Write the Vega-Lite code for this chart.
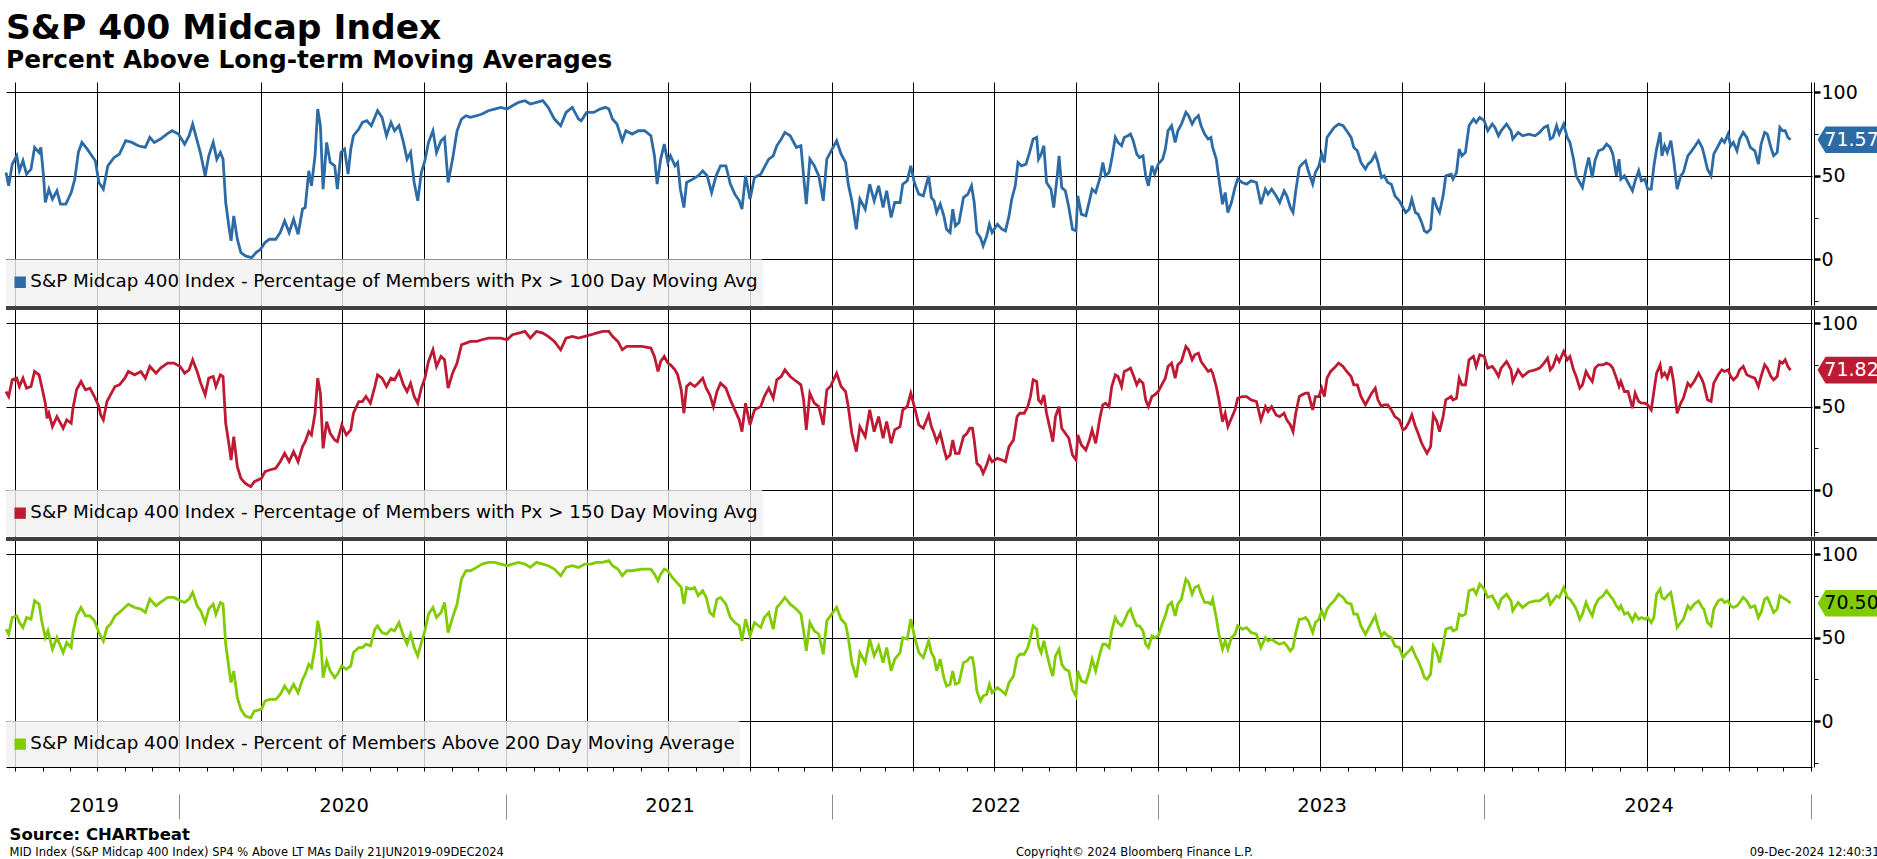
{
"$schema": "https://vega.github.io/schema/vega-lite/v6.json",
"padding": {"left": 0, "right": 0, "top": 10, "bottom": 0},
"background": "white",
"config": {"view": {"stroke": null}, "font": "DejaVu Sans"},
"title": {"text": "S&P 400 Midcap Index", "subtitle": "Percent Above Long-term Moving Averages", "anchor": "start", "frame": "group", "offset": 8, "font": "DejaVu Sans", "fontSize": 34.5, "fontWeight": "bold", "color": "black", "subtitleFont": "DejaVu Sans", "subtitleFontSize": 24.8, "subtitleFontWeight": "bold", "subtitleColor": "black", "subtitlePadding": 2},
"spacing": 0,
"resolve": {"scale": {"x": "independent", "y": "independent", "color": "independent"}, "legend": {"color": "independent"}, "axis": {"x": "independent", "y": "independent"}},
"datasets": {
"m100": [
{"date":"2019-06-21","pct":52},{"date":"2019-06-24","pct":44},{"date":"2019-06-28","pct":57},{"date":"2019-07-03","pct":62},{"date":"2019-07-06","pct":53},{"date":"2019-07-10","pct":59},{"date":"2019-07-14","pct":51},{"date":"2019-07-19","pct":54},{"date":"2019-07-23","pct":67},{"date":"2019-07-28","pct":64},{"date":"2019-07-30","pct":67},{"date":"2019-08-02","pct":50},{"date":"2019-08-04","pct":34},{"date":"2019-08-08","pct":42},{"date":"2019-08-12","pct":36},{"date":"2019-08-17","pct":41},{"date":"2019-08-21","pct":33},{"date":"2019-08-27","pct":33},{"date":"2019-09-02","pct":40},{"date":"2019-09-06","pct":48},{"date":"2019-09-10","pct":64},{"date":"2019-09-14","pct":70},{"date":"2019-09-20","pct":66},{"date":"2019-09-25","pct":62},{"date":"2019-09-29","pct":59},{"date":"2019-10-03","pct":46},{"date":"2019-10-08","pct":42},{"date":"2019-10-13","pct":56},{"date":"2019-10-20","pct":61},{"date":"2019-10-26","pct":63},{"date":"2019-11-02","pct":71},{"date":"2019-11-09","pct":70},{"date":"2019-11-16","pct":68},{"date":"2019-11-24","pct":67},{"date":"2019-11-29","pct":73},{"date":"2019-12-04","pct":70},{"date":"2019-12-11","pct":72},{"date":"2019-12-18","pct":75},{"date":"2019-12-24","pct":77},{"date":"2019-12-31","pct":75},
{"date":"2020-01-07","pct":69},{"date":"2020-01-12","pct":74},{"date":"2020-01-16","pct":81},{"date":"2020-01-20","pct":73},{"date":"2020-01-25","pct":63},{"date":"2020-01-30","pct":50},{"date":"2020-02-03","pct":62},{"date":"2020-02-08","pct":70},{"date":"2020-02-12","pct":60},{"date":"2020-02-16","pct":64},{"date":"2020-02-19","pct":60},{"date":"2020-02-22","pct":34},{"date":"2020-02-26","pct":18},{"date":"2020-02-28","pct":11},{"date":"2020-03-02","pct":26},{"date":"2020-03-06","pct":12},{"date":"2020-03-10","pct":4},{"date":"2020-03-15","pct":2},{"date":"2020-03-22","pct":1},{"date":"2020-03-27","pct":4},{"date":"2020-04-01","pct":6},{"date":"2020-04-06","pct":10},{"date":"2020-04-11","pct":12},{"date":"2020-04-18","pct":12},{"date":"2020-04-23","pct":16},{"date":"2020-04-28","pct":23},{"date":"2020-05-03","pct":16},{"date":"2020-05-08","pct":24},{"date":"2020-05-13","pct":15},{"date":"2020-05-18","pct":30},{"date":"2020-05-21","pct":31},{"date":"2020-05-25","pct":53},{"date":"2020-05-28","pct":44},{"date":"2020-06-01","pct":62},{"date":"2020-06-04","pct":90},{"date":"2020-06-07","pct":80},{"date":"2020-06-10","pct":42},{"date":"2020-06-14","pct":70},{"date":"2020-06-18","pct":58},{"date":"2020-06-23","pct":56},{"date":"2020-06-26","pct":42},{"date":"2020-06-30","pct":64},{"date":"2020-07-04","pct":66},{"date":"2020-07-08","pct":51},{"date":"2020-07-11","pct":66},{"date":"2020-07-14","pct":74},{"date":"2020-07-20","pct":78},{"date":"2020-07-24","pct":82},{"date":"2020-07-29","pct":83},{"date":"2020-08-03","pct":80},{"date":"2020-08-10","pct":89},{"date":"2020-08-15","pct":85},{"date":"2020-08-20","pct":74},{"date":"2020-08-25","pct":82},{"date":"2020-08-29","pct":77},{"date":"2020-09-03","pct":80},{"date":"2020-09-08","pct":70},{"date":"2020-09-12","pct":60},{"date":"2020-09-16","pct":64},{"date":"2020-09-20","pct":46},{"date":"2020-09-24","pct":35},{"date":"2020-09-28","pct":52},{"date":"2020-10-02","pct":59},{"date":"2020-10-06","pct":70},{"date":"2020-10-11","pct":77},{"date":"2020-10-15","pct":64},{"date":"2020-10-20","pct":71},{"date":"2020-10-24","pct":73},{"date":"2020-10-28","pct":46},{"date":"2020-11-02","pct":60},{"date":"2020-11-07","pct":77},{"date":"2020-11-12","pct":84},{"date":"2020-11-17","pct":86},{"date":"2020-11-22","pct":85},{"date":"2020-11-29","pct":86},{"date":"2020-12-05","pct":87},{"date":"2020-12-12","pct":89},{"date":"2020-12-19","pct":90},{"date":"2020-12-26","pct":91},
{"date":"2021-01-02","pct":90},{"date":"2021-01-08","pct":92},{"date":"2021-01-15","pct":94},{"date":"2021-01-22","pct":95},{"date":"2021-01-28","pct":93},{"date":"2021-02-04","pct":94},{"date":"2021-02-11","pct":95},{"date":"2021-02-17","pct":91},{"date":"2021-02-24","pct":84},{"date":"2021-03-03","pct":80},{"date":"2021-03-09","pct":88},{"date":"2021-03-16","pct":91},{"date":"2021-03-23","pct":84},{"date":"2021-03-26","pct":83},{"date":"2021-04-01","pct":88},{"date":"2021-04-09","pct":88},{"date":"2021-04-16","pct":90},{"date":"2021-04-22","pct":91},{"date":"2021-04-26","pct":90},{"date":"2021-04-30","pct":84},{"date":"2021-05-05","pct":81},{"date":"2021-05-11","pct":71},{"date":"2021-05-15","pct":77},{"date":"2021-05-22","pct":75},{"date":"2021-05-29","pct":77},{"date":"2021-06-05","pct":77},{"date":"2021-06-12","pct":74},{"date":"2021-06-16","pct":62},{"date":"2021-06-19","pct":45},{"date":"2021-06-23","pct":60},{"date":"2021-06-27","pct":69},{"date":"2021-07-01","pct":58},{"date":"2021-07-04","pct":62},{"date":"2021-07-09","pct":56},{"date":"2021-07-12","pct":58},{"date":"2021-07-15","pct":42},{"date":"2021-07-19","pct":31},{"date":"2021-07-22","pct":46},{"date":"2021-07-29","pct":48},{"date":"2021-08-04","pct":50},{"date":"2021-08-09","pct":53},{"date":"2021-08-14","pct":50},{"date":"2021-08-19","pct":40},{"date":"2021-08-24","pct":50},{"date":"2021-08-29","pct":56},{"date":"2021-09-04","pct":56},{"date":"2021-09-09","pct":45},{"date":"2021-09-14","pct":39},{"date":"2021-09-19","pct":35},{"date":"2021-09-22","pct":30},{"date":"2021-09-26","pct":50},{"date":"2021-10-01","pct":36},{"date":"2021-10-06","pct":49},{"date":"2021-10-13","pct":51},{"date":"2021-10-17","pct":55},{"date":"2021-10-22","pct":60},{"date":"2021-10-27","pct":62},{"date":"2021-10-31","pct":68},{"date":"2021-11-05","pct":72},{"date":"2021-11-09","pct":76},{"date":"2021-11-15","pct":74},{"date":"2021-11-22","pct":67},{"date":"2021-11-27","pct":68},{"date":"2021-11-30","pct":50},{"date":"2021-12-03","pct":33},{"date":"2021-12-07","pct":60},{"date":"2021-12-12","pct":56},{"date":"2021-12-17","pct":50},{"date":"2021-12-22","pct":35},{"date":"2021-12-26","pct":60},{"date":"2021-12-30","pct":64},
{"date":"2022-01-06","pct":71},{"date":"2022-01-11","pct":63},{"date":"2022-01-16","pct":58},{"date":"2022-01-19","pct":45},{"date":"2022-01-23","pct":35},{"date":"2022-01-28","pct":18},{"date":"2022-02-01","pct":36},{"date":"2022-02-07","pct":30},{"date":"2022-02-12","pct":45},{"date":"2022-02-17","pct":35},{"date":"2022-02-22","pct":44},{"date":"2022-02-27","pct":31},{"date":"2022-03-03","pct":41},{"date":"2022-03-08","pct":25},{"date":"2022-03-12","pct":34},{"date":"2022-03-18","pct":34},{"date":"2022-03-21","pct":45},{"date":"2022-03-26","pct":47},{"date":"2022-03-30","pct":56},{"date":"2022-04-03","pct":46},{"date":"2022-04-08","pct":39},{"date":"2022-04-13","pct":38},{"date":"2022-04-19","pct":50},{"date":"2022-04-22","pct":37},{"date":"2022-04-25","pct":35},{"date":"2022-04-28","pct":28},{"date":"2022-05-02","pct":33},{"date":"2022-05-06","pct":26},{"date":"2022-05-09","pct":18},{"date":"2022-05-13","pct":16},{"date":"2022-05-16","pct":30},{"date":"2022-05-19","pct":20},{"date":"2022-05-23","pct":22},{"date":"2022-05-28","pct":37},{"date":"2022-06-02","pct":39},{"date":"2022-06-06","pct":44},{"date":"2022-06-09","pct":34},{"date":"2022-06-12","pct":16},{"date":"2022-06-16","pct":13},{"date":"2022-06-19","pct":8},{"date":"2022-06-23","pct":14},{"date":"2022-06-26","pct":21},{"date":"2022-06-29","pct":16},{"date":"2022-07-05","pct":21},{"date":"2022-07-10","pct":18},{"date":"2022-07-14","pct":17},{"date":"2022-07-18","pct":26},{"date":"2022-07-21","pct":36},{"date":"2022-07-25","pct":44},{"date":"2022-07-28","pct":58},{"date":"2022-08-01","pct":56},{"date":"2022-08-06","pct":57},{"date":"2022-08-10","pct":64},{"date":"2022-08-14","pct":72},{"date":"2022-08-18","pct":73},{"date":"2022-08-20","pct":60},{"date":"2022-08-23","pct":63},{"date":"2022-08-26","pct":68},{"date":"2022-08-29","pct":46},{"date":"2022-09-03","pct":42},{"date":"2022-09-06","pct":31},{"date":"2022-09-10","pct":50},{"date":"2022-09-12","pct":62},{"date":"2022-09-15","pct":43},{"date":"2022-09-19","pct":41},{"date":"2022-09-23","pct":31},{"date":"2022-09-27","pct":18},{"date":"2022-10-01","pct":17},{"date":"2022-10-03","pct":38},{"date":"2022-10-07","pct":27},{"date":"2022-10-12","pct":26},{"date":"2022-10-16","pct":35},{"date":"2022-10-19","pct":42},{"date":"2022-10-23","pct":40},{"date":"2022-10-28","pct":49},{"date":"2022-10-31","pct":58},{"date":"2022-11-03","pct":50},{"date":"2022-11-07","pct":52},{"date":"2022-11-10","pct":60},{"date":"2022-11-14","pct":73},{"date":"2022-11-17","pct":70},{"date":"2022-11-21","pct":68},{"date":"2022-11-24","pct":73},{"date":"2022-11-28","pct":74},{"date":"2022-12-01","pct":75},{"date":"2022-12-04","pct":71},{"date":"2022-12-08","pct":63},{"date":"2022-12-11","pct":61},{"date":"2022-12-15","pct":62},{"date":"2022-12-18","pct":50},{"date":"2022-12-21","pct":44},{"date":"2022-12-25","pct":56},{"date":"2022-12-28","pct":51},
{"date":"2023-01-01","pct":57},{"date":"2023-01-06","pct":60},{"date":"2023-01-09","pct":66},{"date":"2023-01-12","pct":77},{"date":"2023-01-16","pct":80},{"date":"2023-01-20","pct":70},{"date":"2023-01-23","pct":77},{"date":"2023-01-27","pct":81},{"date":"2023-02-01","pct":88},{"date":"2023-02-04","pct":86},{"date":"2023-02-08","pct":81},{"date":"2023-02-11","pct":84},{"date":"2023-02-15","pct":86},{"date":"2023-02-18","pct":80},{"date":"2023-02-22","pct":75},{"date":"2023-02-26","pct":72},{"date":"2023-03-01","pct":73},{"date":"2023-03-03","pct":67},{"date":"2023-03-07","pct":60},{"date":"2023-03-10","pct":48},{"date":"2023-03-14","pct":33},{"date":"2023-03-17","pct":40},{"date":"2023-03-20","pct":28},{"date":"2023-03-24","pct":34},{"date":"2023-03-28","pct":43},{"date":"2023-03-31","pct":48},{"date":"2023-04-05","pct":46},{"date":"2023-04-10","pct":45},{"date":"2023-04-15","pct":47},{"date":"2023-04-21","pct":46},{"date":"2023-04-26","pct":33},{"date":"2023-05-01","pct":42},{"date":"2023-05-04","pct":39},{"date":"2023-05-08","pct":42},{"date":"2023-05-13","pct":38},{"date":"2023-05-17","pct":34},{"date":"2023-05-22","pct":41},{"date":"2023-05-25","pct":38},{"date":"2023-05-29","pct":31},{"date":"2023-06-01","pct":28},{"date":"2023-06-04","pct":41},{"date":"2023-06-08","pct":55},{"date":"2023-06-11","pct":57},{"date":"2023-06-15","pct":59},{"date":"2023-06-18","pct":53},{"date":"2023-06-23","pct":45},{"date":"2023-06-26","pct":52},{"date":"2023-06-30","pct":56},{"date":"2023-07-03","pct":63},{"date":"2023-07-06","pct":58},{"date":"2023-07-09","pct":73},{"date":"2023-07-13","pct":76},{"date":"2023-07-17","pct":79},{"date":"2023-07-22","pct":81},{"date":"2023-07-27","pct":80},{"date":"2023-07-31","pct":77},{"date":"2023-08-05","pct":73},{"date":"2023-08-08","pct":67},{"date":"2023-08-12","pct":65},{"date":"2023-08-16","pct":58},{"date":"2023-08-21","pct":54},{"date":"2023-08-24","pct":57},{"date":"2023-08-28","pct":59},{"date":"2023-09-01","pct":63},{"date":"2023-09-04","pct":58},{"date":"2023-09-08","pct":49},{"date":"2023-09-11","pct":50},{"date":"2023-09-15","pct":46},{"date":"2023-09-19","pct":45},{"date":"2023-09-23","pct":38},{"date":"2023-09-28","pct":35},{"date":"2023-10-02","pct":31},{"date":"2023-10-05","pct":28},{"date":"2023-10-09","pct":30},{"date":"2023-10-12","pct":36},{"date":"2023-10-16","pct":28},{"date":"2023-10-19","pct":27},{"date":"2023-10-23","pct":22},{"date":"2023-10-26","pct":17},{"date":"2023-10-29","pct":16},{"date":"2023-11-02","pct":18},{"date":"2023-11-05","pct":37},{"date":"2023-11-09","pct":31},{"date":"2023-11-12","pct":28},{"date":"2023-11-16","pct":38},{"date":"2023-11-19","pct":50},{"date":"2023-11-25","pct":51},{"date":"2023-11-27","pct":48},{"date":"2023-12-01","pct":52},{"date":"2023-12-04","pct":66},{"date":"2023-12-07","pct":62},{"date":"2023-12-11","pct":64},{"date":"2023-12-15","pct":80},{"date":"2023-12-20","pct":84},{"date":"2023-12-23","pct":82},{"date":"2023-12-27","pct":85},
{"date":"2024-01-01","pct":83},{"date":"2024-01-05","pct":77},{"date":"2024-01-10","pct":81},{"date":"2024-01-13","pct":79},{"date":"2024-01-17","pct":74},{"date":"2024-01-20","pct":77},{"date":"2024-01-26","pct":81},{"date":"2024-01-31","pct":77},{"date":"2024-02-02","pct":72},{"date":"2024-02-08","pct":76},{"date":"2024-02-13","pct":74},{"date":"2024-02-20","pct":75},{"date":"2024-02-27","pct":74},{"date":"2024-03-03","pct":76},{"date":"2024-03-08","pct":79},{"date":"2024-03-12","pct":80},{"date":"2024-03-15","pct":72},{"date":"2024-03-18","pct":73},{"date":"2024-03-22","pct":80},{"date":"2024-03-25","pct":75},{"date":"2024-03-30","pct":81},{"date":"2024-04-03","pct":73},{"date":"2024-04-06","pct":70},{"date":"2024-04-10","pct":60},{"date":"2024-04-13","pct":50},{"date":"2024-04-17","pct":46},{"date":"2024-04-20","pct":43},{"date":"2024-04-24","pct":54},{"date":"2024-04-27","pct":61},{"date":"2024-05-01","pct":49},{"date":"2024-05-04","pct":59},{"date":"2024-05-08","pct":65},{"date":"2024-05-13","pct":66},{"date":"2024-05-17","pct":69},{"date":"2024-05-21","pct":67},{"date":"2024-05-24","pct":63},{"date":"2024-05-28","pct":50},{"date":"2024-05-31","pct":60},{"date":"2024-06-02","pct":48},{"date":"2024-06-06","pct":50},{"date":"2024-06-10","pct":46},{"date":"2024-06-15","pct":41},{"date":"2024-06-18","pct":47},{"date":"2024-06-22","pct":53},{"date":"2024-06-25","pct":47},{"date":"2024-06-29","pct":48},{"date":"2024-07-02","pct":42},{"date":"2024-07-06","pct":42},{"date":"2024-07-09","pct":56},{"date":"2024-07-12","pct":66},{"date":"2024-07-16","pct":76},{"date":"2024-07-18","pct":62},{"date":"2024-07-21","pct":68},{"date":"2024-07-24","pct":64},{"date":"2024-07-28","pct":71},{"date":"2024-07-31","pct":60},{"date":"2024-08-04","pct":42},{"date":"2024-08-08","pct":50},{"date":"2024-08-11","pct":52},{"date":"2024-08-16","pct":62},{"date":"2024-08-19","pct":64},{"date":"2024-08-23","pct":67},{"date":"2024-08-28","pct":71},{"date":"2024-09-01","pct":67},{"date":"2024-09-03","pct":63},{"date":"2024-09-07","pct":54},{"date":"2024-09-11","pct":50},{"date":"2024-09-14","pct":63},{"date":"2024-09-19","pct":68},{"date":"2024-09-23","pct":72},{"date":"2024-09-26","pct":70},{"date":"2024-09-30","pct":75},{"date":"2024-10-03","pct":68},{"date":"2024-10-06","pct":70},{"date":"2024-10-10","pct":65},{"date":"2024-10-13","pct":72},{"date":"2024-10-17","pct":76},{"date":"2024-10-21","pct":73},{"date":"2024-10-25","pct":67},{"date":"2024-10-30","pct":65},{"date":"2024-11-03","pct":57},{"date":"2024-11-06","pct":69},{"date":"2024-11-10","pct":76},{"date":"2024-11-13","pct":75},{"date":"2024-11-17","pct":67},{"date":"2024-11-20","pct":62},{"date":"2024-11-24","pct":64},{"date":"2024-11-27","pct":79},{"date":"2024-11-30","pct":77},{"date":"2024-12-03","pct":77},{"date":"2024-12-06","pct":73},{"date":"2024-12-09","pct":71.57}
],
"m150": [
{"date":"2019-06-21","pct":59},{"date":"2019-06-24","pct":56},{"date":"2019-06-28","pct":66},{"date":"2019-07-03","pct":67},{"date":"2019-07-06","pct":62},{"date":"2019-07-10","pct":67},{"date":"2019-07-14","pct":61},{"date":"2019-07-19","pct":62},{"date":"2019-07-23","pct":71},{"date":"2019-07-28","pct":69},{"date":"2019-07-31","pct":62},{"date":"2019-08-04","pct":52},{"date":"2019-08-06","pct":43},{"date":"2019-08-08","pct":46},{"date":"2019-08-12","pct":38},{"date":"2019-08-17","pct":44},{"date":"2019-08-24","pct":37},{"date":"2019-08-28","pct":42},{"date":"2019-09-02","pct":40},{"date":"2019-09-04","pct":49},{"date":"2019-09-08","pct":60},{"date":"2019-09-13","pct":65},{"date":"2019-09-18","pct":60},{"date":"2019-09-23","pct":61},{"date":"2019-09-28","pct":56},{"date":"2019-10-03","pct":50},{"date":"2019-10-05","pct":45},{"date":"2019-10-08","pct":42},{"date":"2019-10-12","pct":53},{"date":"2019-10-16","pct":57},{"date":"2019-10-21","pct":62},{"date":"2019-10-26","pct":63},{"date":"2019-11-01","pct":67},{"date":"2019-11-05","pct":71},{"date":"2019-11-12","pct":69},{"date":"2019-11-19","pct":71},{"date":"2019-11-24","pct":67},{"date":"2019-11-29","pct":74},{"date":"2019-12-06","pct":70},{"date":"2019-12-11","pct":73},{"date":"2019-12-19","pct":76},{"date":"2019-12-26","pct":76},
{"date":"2020-01-02","pct":74},{"date":"2020-01-07","pct":70},{"date":"2020-01-12","pct":72},{"date":"2020-01-16","pct":78},{"date":"2020-01-21","pct":71},{"date":"2020-01-25","pct":64},{"date":"2020-01-30","pct":57},{"date":"2020-02-03","pct":67},{"date":"2020-02-08","pct":68},{"date":"2020-02-11","pct":62},{"date":"2020-02-16","pct":69},{"date":"2020-02-19","pct":68},{"date":"2020-02-22","pct":40},{"date":"2020-02-26","pct":26},{"date":"2020-02-28","pct":18},{"date":"2020-03-02","pct":32},{"date":"2020-03-06","pct":14},{"date":"2020-03-10","pct":7},{"date":"2020-03-15","pct":4},{"date":"2020-03-21","pct":2},{"date":"2020-03-25","pct":5},{"date":"2020-04-02","pct":7},{"date":"2020-04-06","pct":11},{"date":"2020-04-11","pct":12},{"date":"2020-04-18","pct":13},{"date":"2020-04-23","pct":17},{"date":"2020-04-28","pct":22},{"date":"2020-05-03","pct":17},{"date":"2020-05-08","pct":23},{"date":"2020-05-13","pct":17},{"date":"2020-05-18","pct":26},{"date":"2020-05-21","pct":29},{"date":"2020-05-25","pct":35},{"date":"2020-05-28","pct":33},{"date":"2020-06-01","pct":46},{"date":"2020-06-04","pct":67},{"date":"2020-06-07","pct":58},{"date":"2020-06-10","pct":25},{"date":"2020-06-14","pct":41},{"date":"2020-06-18","pct":34},{"date":"2020-06-23","pct":30},{"date":"2020-06-26","pct":29},{"date":"2020-07-01","pct":39},{"date":"2020-07-06","pct":33},{"date":"2020-07-11","pct":36},{"date":"2020-07-14","pct":46},{"date":"2020-07-20","pct":53},{"date":"2020-07-24","pct":53},{"date":"2020-07-28","pct":56},{"date":"2020-08-02","pct":52},{"date":"2020-08-07","pct":62},{"date":"2020-08-10","pct":69},{"date":"2020-08-15","pct":67},{"date":"2020-08-20","pct":62},{"date":"2020-08-25","pct":67},{"date":"2020-08-29","pct":66},{"date":"2020-09-03","pct":71},{"date":"2020-09-08","pct":63},{"date":"2020-09-12","pct":59},{"date":"2020-09-16","pct":64},{"date":"2020-09-20","pct":56},{"date":"2020-09-24","pct":52},{"date":"2020-09-28","pct":61},{"date":"2020-10-02","pct":67},{"date":"2020-10-06","pct":77},{"date":"2020-10-11","pct":84},{"date":"2020-10-15","pct":74},{"date":"2020-10-20","pct":80},{"date":"2020-10-24","pct":78},{"date":"2020-10-28","pct":61},{"date":"2020-11-02","pct":70},{"date":"2020-11-07","pct":76},{"date":"2020-11-12","pct":87},{"date":"2020-11-17","pct":88},{"date":"2020-11-22","pct":89},{"date":"2020-11-29","pct":89},{"date":"2020-12-05","pct":90},{"date":"2020-12-12","pct":91},{"date":"2020-12-19","pct":91},{"date":"2020-12-26","pct":91},
{"date":"2021-01-02","pct":90},{"date":"2021-01-08","pct":93},{"date":"2021-01-15","pct":94},{"date":"2021-01-22","pct":95},{"date":"2021-01-28","pct":91},{"date":"2021-02-04","pct":95},{"date":"2021-02-11","pct":94},{"date":"2021-02-17","pct":92},{"date":"2021-02-24","pct":89},{"date":"2021-03-03","pct":84},{"date":"2021-03-09","pct":91},{"date":"2021-03-16","pct":92},{"date":"2021-03-23","pct":91},{"date":"2021-03-30","pct":92},{"date":"2021-04-06","pct":93},{"date":"2021-04-12","pct":94},{"date":"2021-04-19","pct":95},{"date":"2021-04-26","pct":95},{"date":"2021-04-30","pct":92},{"date":"2021-05-06","pct":89},{"date":"2021-05-11","pct":84},{"date":"2021-05-16","pct":86},{"date":"2021-05-22","pct":86},{"date":"2021-06-02","pct":86},{"date":"2021-06-12","pct":85},{"date":"2021-06-16","pct":80},{"date":"2021-06-20","pct":71},{"date":"2021-06-23","pct":77},{"date":"2021-06-27","pct":80},{"date":"2021-07-01","pct":76},{"date":"2021-07-04","pct":75},{"date":"2021-07-09","pct":72},{"date":"2021-07-12","pct":69},{"date":"2021-07-16","pct":60},{"date":"2021-07-19","pct":46},{"date":"2021-07-22","pct":62},{"date":"2021-07-26","pct":64},{"date":"2021-07-31","pct":62},{"date":"2021-08-04","pct":64},{"date":"2021-08-09","pct":67},{"date":"2021-08-13","pct":61},{"date":"2021-08-17","pct":57},{"date":"2021-08-21","pct":50},{"date":"2021-08-25","pct":59},{"date":"2021-08-29","pct":64},{"date":"2021-09-04","pct":61},{"date":"2021-09-09","pct":54},{"date":"2021-09-14","pct":48},{"date":"2021-09-19","pct":42},{"date":"2021-09-22","pct":35},{"date":"2021-09-26","pct":52},{"date":"2021-10-01","pct":39},{"date":"2021-10-06","pct":48},{"date":"2021-10-13","pct":50},{"date":"2021-10-17","pct":56},{"date":"2021-10-22","pct":61},{"date":"2021-10-27","pct":55},{"date":"2021-10-31","pct":66},{"date":"2021-11-05","pct":68},{"date":"2021-11-09","pct":72},{"date":"2021-11-15","pct":68},{"date":"2021-11-22","pct":65},{"date":"2021-11-27","pct":63},{"date":"2021-11-30","pct":54},{"date":"2021-12-03","pct":36},{"date":"2021-12-07","pct":58},{"date":"2021-12-12","pct":52},{"date":"2021-12-17","pct":50},{"date":"2021-12-22","pct":39},{"date":"2021-12-26","pct":60},{"date":"2021-12-30","pct":62},
{"date":"2022-01-06","pct":70},{"date":"2022-01-11","pct":62},{"date":"2022-01-16","pct":59},{"date":"2022-01-19","pct":50},{"date":"2022-01-23","pct":34},{"date":"2022-01-28","pct":23},{"date":"2022-02-01","pct":38},{"date":"2022-02-07","pct":32},{"date":"2022-02-12","pct":48},{"date":"2022-02-17","pct":35},{"date":"2022-02-22","pct":44},{"date":"2022-02-27","pct":31},{"date":"2022-03-03","pct":41},{"date":"2022-03-08","pct":28},{"date":"2022-03-12","pct":36},{"date":"2022-03-18","pct":38},{"date":"2022-03-21","pct":48},{"date":"2022-03-26","pct":50},{"date":"2022-03-30","pct":58},{"date":"2022-04-03","pct":50},{"date":"2022-04-08","pct":39},{"date":"2022-04-13","pct":37},{"date":"2022-04-19","pct":45},{"date":"2022-04-22","pct":38},{"date":"2022-04-25","pct":34},{"date":"2022-04-28","pct":29},{"date":"2022-05-02","pct":34},{"date":"2022-05-06","pct":25},{"date":"2022-05-09","pct":19},{"date":"2022-05-13","pct":21},{"date":"2022-05-16","pct":30},{"date":"2022-05-19","pct":22},{"date":"2022-05-23","pct":22},{"date":"2022-05-28","pct":32},{"date":"2022-06-01","pct":34},{"date":"2022-06-04","pct":37},{"date":"2022-06-07","pct":37},{"date":"2022-06-09","pct":30},{"date":"2022-06-12","pct":16},{"date":"2022-06-16","pct":14},{"date":"2022-06-19","pct":10},{"date":"2022-06-23","pct":15},{"date":"2022-06-26","pct":20},{"date":"2022-06-29","pct":17},{"date":"2022-07-05","pct":19},{"date":"2022-07-10","pct":18},{"date":"2022-07-14","pct":17},{"date":"2022-07-18","pct":26},{"date":"2022-07-23","pct":30},{"date":"2022-07-27","pct":44},{"date":"2022-07-30","pct":46},{"date":"2022-08-04","pct":46},{"date":"2022-08-08","pct":50},{"date":"2022-08-11","pct":56},{"date":"2022-08-14","pct":66},{"date":"2022-08-18","pct":65},{"date":"2022-08-20","pct":54},{"date":"2022-08-23","pct":52},{"date":"2022-08-26","pct":57},{"date":"2022-08-29","pct":46},{"date":"2022-09-03","pct":34},{"date":"2022-09-05","pct":29},{"date":"2022-09-08","pct":44},{"date":"2022-09-12","pct":50},{"date":"2022-09-15","pct":37},{"date":"2022-09-19","pct":34},{"date":"2022-09-23","pct":31},{"date":"2022-09-27","pct":21},{"date":"2022-10-01","pct":18},{"date":"2022-10-03","pct":33},{"date":"2022-10-07","pct":27},{"date":"2022-10-12","pct":24},{"date":"2022-10-16","pct":30},{"date":"2022-10-19","pct":36},{"date":"2022-10-23","pct":28},{"date":"2022-10-28","pct":44},{"date":"2022-10-31","pct":51},{"date":"2022-11-03","pct":52},{"date":"2022-11-07","pct":50},{"date":"2022-11-10","pct":62},{"date":"2022-11-14","pct":69},{"date":"2022-11-17","pct":68},{"date":"2022-11-21","pct":62},{"date":"2022-11-24","pct":71},{"date":"2022-11-28","pct":72},{"date":"2022-12-01","pct":73},{"date":"2022-12-04","pct":69},{"date":"2022-12-08","pct":63},{"date":"2022-12-11","pct":66},{"date":"2022-12-15","pct":64},{"date":"2022-12-18","pct":54},{"date":"2022-12-21","pct":50},{"date":"2022-12-25","pct":56},{"date":"2022-12-28","pct":57},
{"date":"2023-01-01","pct":59},{"date":"2023-01-06","pct":64},{"date":"2023-01-09","pct":67},{"date":"2023-01-12","pct":74},{"date":"2023-01-16","pct":76},{"date":"2023-01-20","pct":67},{"date":"2023-01-23","pct":75},{"date":"2023-01-27","pct":77},{"date":"2023-02-01","pct":86},{"date":"2023-02-04","pct":84},{"date":"2023-02-08","pct":78},{"date":"2023-02-11","pct":81},{"date":"2023-02-15","pct":82},{"date":"2023-02-18","pct":77},{"date":"2023-02-22","pct":74},{"date":"2023-02-26","pct":71},{"date":"2023-03-01","pct":72},{"date":"2023-03-03","pct":70},{"date":"2023-03-07","pct":62},{"date":"2023-03-10","pct":54},{"date":"2023-03-14","pct":41},{"date":"2023-03-17","pct":46},{"date":"2023-03-20","pct":38},{"date":"2023-03-24","pct":43},{"date":"2023-03-28","pct":48},{"date":"2023-03-31","pct":55},{"date":"2023-04-05","pct":56},{"date":"2023-04-10","pct":56},{"date":"2023-04-15","pct":54},{"date":"2023-04-21","pct":53},{"date":"2023-04-26","pct":42},{"date":"2023-05-01","pct":50},{"date":"2023-05-04","pct":47},{"date":"2023-05-08","pct":50},{"date":"2023-05-13","pct":45},{"date":"2023-05-17","pct":44},{"date":"2023-05-22","pct":46},{"date":"2023-05-25","pct":42},{"date":"2023-05-29","pct":39},{"date":"2023-06-01","pct":35},{"date":"2023-06-04","pct":46},{"date":"2023-06-08","pct":56},{"date":"2023-06-11","pct":57},{"date":"2023-06-15","pct":58},{"date":"2023-06-18","pct":58},{"date":"2023-06-23","pct":48},{"date":"2023-06-26","pct":56},{"date":"2023-06-30","pct":56},{"date":"2023-07-03","pct":61},{"date":"2023-07-06","pct":56},{"date":"2023-07-09","pct":67},{"date":"2023-07-13","pct":71},{"date":"2023-07-17","pct":73},{"date":"2023-07-22","pct":76},{"date":"2023-07-27","pct":74},{"date":"2023-07-31","pct":71},{"date":"2023-08-05","pct":68},{"date":"2023-08-08","pct":63},{"date":"2023-08-12","pct":63},{"date":"2023-08-16","pct":56},{"date":"2023-08-21","pct":51},{"date":"2023-08-24","pct":54},{"date":"2023-08-28","pct":58},{"date":"2023-09-01","pct":61},{"date":"2023-09-04","pct":54},{"date":"2023-09-08","pct":50},{"date":"2023-09-11","pct":51},{"date":"2023-09-15","pct":51},{"date":"2023-09-19","pct":48},{"date":"2023-09-23","pct":44},{"date":"2023-09-28","pct":42},{"date":"2023-10-02","pct":36},{"date":"2023-10-05","pct":37},{"date":"2023-10-09","pct":41},{"date":"2023-10-12","pct":45},{"date":"2023-10-16","pct":38},{"date":"2023-10-19","pct":34},{"date":"2023-10-23","pct":28},{"date":"2023-10-26","pct":25},{"date":"2023-10-29","pct":22},{"date":"2023-11-02","pct":26},{"date":"2023-11-05","pct":45},{"date":"2023-11-09","pct":41},{"date":"2023-11-12","pct":35},{"date":"2023-11-16","pct":44},{"date":"2023-11-19","pct":54},{"date":"2023-11-25","pct":56},{"date":"2023-11-27","pct":54},{"date":"2023-12-01","pct":55},{"date":"2023-12-04","pct":67},{"date":"2023-12-07","pct":63},{"date":"2023-12-11","pct":63},{"date":"2023-12-15","pct":78},{"date":"2023-12-20","pct":80},{"date":"2023-12-23","pct":74},{"date":"2023-12-27","pct":81},
{"date":"2024-01-01","pct":80},{"date":"2024-01-05","pct":73},{"date":"2024-01-10","pct":74},{"date":"2024-01-13","pct":72},{"date":"2024-01-17","pct":68},{"date":"2024-01-20","pct":73},{"date":"2024-01-26","pct":77},{"date":"2024-01-31","pct":72},{"date":"2024-02-02","pct":65},{"date":"2024-02-08","pct":72},{"date":"2024-02-13","pct":68},{"date":"2024-02-20","pct":71},{"date":"2024-02-27","pct":72},{"date":"2024-03-03","pct":73},{"date":"2024-03-08","pct":76},{"date":"2024-03-12","pct":79},{"date":"2024-03-15","pct":72},{"date":"2024-03-18","pct":74},{"date":"2024-03-22","pct":80},{"date":"2024-03-25","pct":77},{"date":"2024-03-30","pct":83},{"date":"2024-04-03","pct":78},{"date":"2024-04-06","pct":80},{"date":"2024-04-10","pct":72},{"date":"2024-04-13","pct":68},{"date":"2024-04-17","pct":61},{"date":"2024-04-20","pct":63},{"date":"2024-04-24","pct":71},{"date":"2024-04-27","pct":68},{"date":"2024-05-01","pct":65},{"date":"2024-05-04","pct":73},{"date":"2024-05-08","pct":75},{"date":"2024-05-13","pct":75},{"date":"2024-05-17","pct":76},{"date":"2024-05-21","pct":75},{"date":"2024-05-24","pct":73},{"date":"2024-05-28","pct":67},{"date":"2024-05-31","pct":62},{"date":"2024-06-02","pct":65},{"date":"2024-06-06","pct":59},{"date":"2024-06-10","pct":59},{"date":"2024-06-15","pct":49},{"date":"2024-06-18","pct":58},{"date":"2024-06-22","pct":53},{"date":"2024-06-25","pct":52},{"date":"2024-06-29","pct":52},{"date":"2024-07-02","pct":51},{"date":"2024-07-06","pct":48},{"date":"2024-07-09","pct":59},{"date":"2024-07-12","pct":70},{"date":"2024-07-16","pct":75},{"date":"2024-07-18","pct":68},{"date":"2024-07-21","pct":70},{"date":"2024-07-24","pct":67},{"date":"2024-07-28","pct":74},{"date":"2024-07-31","pct":65},{"date":"2024-08-04","pct":46},{"date":"2024-08-08","pct":52},{"date":"2024-08-11","pct":55},{"date":"2024-08-16","pct":64},{"date":"2024-08-19","pct":62},{"date":"2024-08-23","pct":65},{"date":"2024-08-28","pct":70},{"date":"2024-09-01","pct":66},{"date":"2024-09-03","pct":63},{"date":"2024-09-07","pct":54},{"date":"2024-09-11","pct":53},{"date":"2024-09-14","pct":64},{"date":"2024-09-19","pct":69},{"date":"2024-09-23","pct":72},{"date":"2024-09-26","pct":71},{"date":"2024-09-30","pct":72},{"date":"2024-10-03","pct":68},{"date":"2024-10-06","pct":66},{"date":"2024-10-10","pct":68},{"date":"2024-10-13","pct":72},{"date":"2024-10-17","pct":74},{"date":"2024-10-21","pct":69},{"date":"2024-10-25","pct":68},{"date":"2024-10-30","pct":67},{"date":"2024-11-03","pct":62},{"date":"2024-11-06","pct":68},{"date":"2024-11-10","pct":75},{"date":"2024-11-13","pct":73},{"date":"2024-11-17","pct":68},{"date":"2024-11-20","pct":66},{"date":"2024-11-24","pct":68},{"date":"2024-11-27","pct":77},{"date":"2024-11-30","pct":76},{"date":"2024-12-03","pct":78},{"date":"2024-12-06","pct":74},{"date":"2024-12-09","pct":71.82}
],
"m200": [
{"date":"2019-06-21","pct":55},{"date":"2019-06-24","pct":52},{"date":"2019-06-28","pct":62},{"date":"2019-07-03","pct":63},{"date":"2019-07-06","pct":59},{"date":"2019-07-10","pct":56},{"date":"2019-07-14","pct":62},{"date":"2019-07-19","pct":61},{"date":"2019-07-23","pct":72},{"date":"2019-07-28","pct":70},{"date":"2019-07-31","pct":60},{"date":"2019-08-04","pct":50},{"date":"2019-08-07","pct":54},{"date":"2019-08-12","pct":43},{"date":"2019-08-17","pct":50},{"date":"2019-08-24","pct":41},{"date":"2019-08-28","pct":47},{"date":"2019-09-02","pct":44},{"date":"2019-09-04","pct":53},{"date":"2019-09-08","pct":63},{"date":"2019-09-13","pct":68},{"date":"2019-09-18","pct":63},{"date":"2019-09-23","pct":63},{"date":"2019-09-28","pct":60},{"date":"2019-10-03","pct":53},{"date":"2019-10-08","pct":48},{"date":"2019-10-12","pct":56},{"date":"2019-10-16","pct":58},{"date":"2019-10-21","pct":63},{"date":"2019-10-26","pct":65},{"date":"2019-11-01","pct":68},{"date":"2019-11-05","pct":70},{"date":"2019-11-12","pct":68},{"date":"2019-11-19","pct":67},{"date":"2019-11-24","pct":65},{"date":"2019-11-29","pct":73},{"date":"2019-12-06","pct":69},{"date":"2019-12-11","pct":71},{"date":"2019-12-19","pct":74},{"date":"2019-12-26","pct":74},
{"date":"2020-01-02","pct":72},{"date":"2020-01-07","pct":71},{"date":"2020-01-12","pct":73},{"date":"2020-01-16","pct":77},{"date":"2020-01-21","pct":69},{"date":"2020-01-25","pct":66},{"date":"2020-01-30","pct":59},{"date":"2020-02-03","pct":67},{"date":"2020-02-08","pct":70},{"date":"2020-02-11","pct":64},{"date":"2020-02-16","pct":71},{"date":"2020-02-19","pct":70},{"date":"2020-02-22","pct":46},{"date":"2020-02-26","pct":30},{"date":"2020-02-28","pct":23},{"date":"2020-03-02","pct":30},{"date":"2020-03-06","pct":14},{"date":"2020-03-10","pct":7},{"date":"2020-03-15","pct":3},{"date":"2020-03-21","pct":2},{"date":"2020-03-25","pct":6},{"date":"2020-04-02","pct":7},{"date":"2020-04-06","pct":12},{"date":"2020-04-11","pct":13},{"date":"2020-04-18","pct":13},{"date":"2020-04-23","pct":16},{"date":"2020-04-28","pct":21},{"date":"2020-05-03","pct":17},{"date":"2020-05-08","pct":22},{"date":"2020-05-13","pct":17},{"date":"2020-05-18","pct":25},{"date":"2020-05-21","pct":28},{"date":"2020-05-25","pct":34},{"date":"2020-05-28","pct":32},{"date":"2020-06-01","pct":44},{"date":"2020-06-04","pct":60},{"date":"2020-06-07","pct":52},{"date":"2020-06-10","pct":26},{"date":"2020-06-14","pct":36},{"date":"2020-06-18","pct":30},{"date":"2020-06-23","pct":26},{"date":"2020-06-26","pct":28},{"date":"2020-07-01","pct":33},{"date":"2020-07-06","pct":31},{"date":"2020-07-11","pct":33},{"date":"2020-07-14","pct":41},{"date":"2020-07-20","pct":44},{"date":"2020-07-24","pct":44},{"date":"2020-07-28","pct":46},{"date":"2020-08-02","pct":45},{"date":"2020-08-07","pct":55},{"date":"2020-08-10","pct":57},{"date":"2020-08-15","pct":53},{"date":"2020-08-20","pct":52},{"date":"2020-08-25","pct":55},{"date":"2020-08-29","pct":54},{"date":"2020-09-03","pct":59},{"date":"2020-09-08","pct":51},{"date":"2020-09-12","pct":46},{"date":"2020-09-16","pct":52},{"date":"2020-09-20","pct":44},{"date":"2020-09-24","pct":39},{"date":"2020-09-28","pct":47},{"date":"2020-10-02","pct":54},{"date":"2020-10-06","pct":64},{"date":"2020-10-11","pct":68},{"date":"2020-10-15","pct":62},{"date":"2020-10-20","pct":65},{"date":"2020-10-24","pct":71},{"date":"2020-10-28","pct":53},{"date":"2020-11-02","pct":62},{"date":"2020-11-07","pct":70},{"date":"2020-11-12","pct":85},{"date":"2020-11-17","pct":90},{"date":"2020-11-22","pct":90},{"date":"2020-11-29","pct":92},{"date":"2020-12-05","pct":94},{"date":"2020-12-12","pct":95},{"date":"2020-12-19","pct":95},{"date":"2020-12-26","pct":94},
{"date":"2021-01-02","pct":93},{"date":"2021-01-08","pct":94},{"date":"2021-01-15","pct":95},{"date":"2021-01-22","pct":94},{"date":"2021-01-28","pct":92},{"date":"2021-02-04","pct":95},{"date":"2021-02-11","pct":94},{"date":"2021-02-17","pct":93},{"date":"2021-02-24","pct":91},{"date":"2021-03-03","pct":87},{"date":"2021-03-09","pct":92},{"date":"2021-03-16","pct":93},{"date":"2021-03-23","pct":92},{"date":"2021-03-30","pct":94},{"date":"2021-04-06","pct":94},{"date":"2021-04-12","pct":95},{"date":"2021-04-19","pct":95},{"date":"2021-04-26","pct":96},{"date":"2021-04-30","pct":93},{"date":"2021-05-06","pct":91},{"date":"2021-05-11","pct":87},{"date":"2021-05-16","pct":90},{"date":"2021-05-22","pct":90},{"date":"2021-06-02","pct":91},{"date":"2021-06-12","pct":91},{"date":"2021-06-16","pct":88},{"date":"2021-06-20","pct":84},{"date":"2021-06-23","pct":88},{"date":"2021-06-27","pct":91},{"date":"2021-07-01","pct":90},{"date":"2021-07-06","pct":86},{"date":"2021-07-11","pct":83},{"date":"2021-07-16","pct":80},{"date":"2021-07-19","pct":70},{"date":"2021-07-22","pct":80},{"date":"2021-07-26","pct":79},{"date":"2021-07-31","pct":80},{"date":"2021-08-04","pct":75},{"date":"2021-08-09","pct":78},{"date":"2021-08-13","pct":74},{"date":"2021-08-17","pct":65},{"date":"2021-08-21","pct":63},{"date":"2021-08-25","pct":73},{"date":"2021-08-29","pct":74},{"date":"2021-09-04","pct":70},{"date":"2021-09-09","pct":62},{"date":"2021-09-14","pct":59},{"date":"2021-09-19","pct":57},{"date":"2021-09-22","pct":48},{"date":"2021-09-26","pct":61},{"date":"2021-10-01","pct":51},{"date":"2021-10-06","pct":59},{"date":"2021-10-13","pct":56},{"date":"2021-10-17","pct":62},{"date":"2021-10-22","pct":65},{"date":"2021-10-27","pct":55},{"date":"2021-10-31","pct":68},{"date":"2021-11-05","pct":71},{"date":"2021-11-09","pct":74},{"date":"2021-11-15","pct":70},{"date":"2021-11-22","pct":67},{"date":"2021-11-27","pct":64},{"date":"2021-11-30","pct":54},{"date":"2021-12-03","pct":42},{"date":"2021-12-07","pct":59},{"date":"2021-12-12","pct":54},{"date":"2021-12-17","pct":52},{"date":"2021-12-22","pct":40},{"date":"2021-12-26","pct":60},{"date":"2021-12-30","pct":63},
{"date":"2022-01-06","pct":68},{"date":"2022-01-11","pct":61},{"date":"2022-01-16","pct":58},{"date":"2022-01-19","pct":50},{"date":"2022-01-23","pct":35},{"date":"2022-01-28","pct":26},{"date":"2022-02-01","pct":41},{"date":"2022-02-07","pct":35},{"date":"2022-02-12","pct":49},{"date":"2022-02-17","pct":39},{"date":"2022-02-22","pct":45},{"date":"2022-02-27","pct":35},{"date":"2022-03-03","pct":44},{"date":"2022-03-08","pct":30},{"date":"2022-03-12","pct":37},{"date":"2022-03-18","pct":41},{"date":"2022-03-21","pct":50},{"date":"2022-03-26","pct":49},{"date":"2022-03-30","pct":61},{"date":"2022-04-03","pct":51},{"date":"2022-04-08","pct":41},{"date":"2022-04-13","pct":38},{"date":"2022-04-19","pct":48},{"date":"2022-04-22","pct":41},{"date":"2022-04-25","pct":38},{"date":"2022-04-28","pct":30},{"date":"2022-05-02","pct":37},{"date":"2022-05-06","pct":26},{"date":"2022-05-09","pct":21},{"date":"2022-05-13","pct":22},{"date":"2022-05-16","pct":30},{"date":"2022-05-19","pct":22},{"date":"2022-05-23","pct":23},{"date":"2022-05-28","pct":35},{"date":"2022-06-01","pct":36},{"date":"2022-06-04","pct":38},{"date":"2022-06-07","pct":38},{"date":"2022-06-09","pct":32},{"date":"2022-06-12","pct":18},{"date":"2022-06-16","pct":12},{"date":"2022-06-19","pct":15},{"date":"2022-06-23","pct":16},{"date":"2022-06-26","pct":22},{"date":"2022-06-29","pct":17},{"date":"2022-07-05","pct":20},{"date":"2022-07-10","pct":18},{"date":"2022-07-14","pct":16},{"date":"2022-07-18","pct":23},{"date":"2022-07-23","pct":27},{"date":"2022-07-27","pct":38},{"date":"2022-07-30","pct":40},{"date":"2022-08-04","pct":40},{"date":"2022-08-08","pct":44},{"date":"2022-08-11","pct":50},{"date":"2022-08-14","pct":57},{"date":"2022-08-18","pct":55},{"date":"2022-08-20","pct":45},{"date":"2022-08-23","pct":41},{"date":"2022-08-26","pct":48},{"date":"2022-08-29","pct":41},{"date":"2022-09-03","pct":30},{"date":"2022-09-05","pct":27},{"date":"2022-09-08","pct":39},{"date":"2022-09-12","pct":43},{"date":"2022-09-15","pct":34},{"date":"2022-09-19","pct":31},{"date":"2022-09-23","pct":30},{"date":"2022-09-27","pct":19},{"date":"2022-10-01","pct":15},{"date":"2022-10-03","pct":30},{"date":"2022-10-07","pct":24},{"date":"2022-10-12","pct":23},{"date":"2022-10-16","pct":30},{"date":"2022-10-19","pct":37},{"date":"2022-10-23","pct":30},{"date":"2022-10-28","pct":41},{"date":"2022-10-31","pct":46},{"date":"2022-11-03","pct":46},{"date":"2022-11-07","pct":44},{"date":"2022-11-10","pct":54},{"date":"2022-11-14","pct":62},{"date":"2022-11-17","pct":59},{"date":"2022-11-21","pct":57},{"date":"2022-11-24","pct":60},{"date":"2022-11-28","pct":65},{"date":"2022-12-01","pct":67},{"date":"2022-12-04","pct":62},{"date":"2022-12-08","pct":57},{"date":"2022-12-11","pct":57},{"date":"2022-12-15","pct":54},{"date":"2022-12-18","pct":46},{"date":"2022-12-21","pct":44},{"date":"2022-12-25","pct":51},{"date":"2022-12-28","pct":50},
{"date":"2023-01-01","pct":51},{"date":"2023-01-06","pct":59},{"date":"2023-01-09","pct":63},{"date":"2023-01-12","pct":69},{"date":"2023-01-16","pct":71},{"date":"2023-01-20","pct":63},{"date":"2023-01-23","pct":70},{"date":"2023-01-27","pct":73},{"date":"2023-02-01","pct":85},{"date":"2023-02-04","pct":83},{"date":"2023-02-08","pct":76},{"date":"2023-02-11","pct":80},{"date":"2023-02-15","pct":81},{"date":"2023-02-18","pct":76},{"date":"2023-02-22","pct":71},{"date":"2023-02-26","pct":71},{"date":"2023-03-01","pct":70},{"date":"2023-03-03","pct":73},{"date":"2023-03-07","pct":62},{"date":"2023-03-10","pct":52},{"date":"2023-03-14","pct":43},{"date":"2023-03-17","pct":48},{"date":"2023-03-20","pct":43},{"date":"2023-03-24","pct":50},{"date":"2023-03-28","pct":52},{"date":"2023-03-31","pct":57},{"date":"2023-04-05","pct":55},{"date":"2023-04-10","pct":56},{"date":"2023-04-15","pct":53},{"date":"2023-04-21","pct":52},{"date":"2023-04-26","pct":44},{"date":"2023-05-01","pct":50},{"date":"2023-05-04","pct":48},{"date":"2023-05-08","pct":49},{"date":"2023-05-13","pct":47},{"date":"2023-05-17","pct":46},{"date":"2023-05-22","pct":47},{"date":"2023-05-25","pct":45},{"date":"2023-05-29","pct":42},{"date":"2023-06-01","pct":44},{"date":"2023-06-04","pct":53},{"date":"2023-06-08","pct":61},{"date":"2023-06-11","pct":61},{"date":"2023-06-15","pct":62},{"date":"2023-06-18","pct":60},{"date":"2023-06-23","pct":53},{"date":"2023-06-26","pct":59},{"date":"2023-06-30","pct":61},{"date":"2023-07-03","pct":66},{"date":"2023-07-06","pct":62},{"date":"2023-07-09","pct":67},{"date":"2023-07-13","pct":70},{"date":"2023-07-17","pct":72},{"date":"2023-07-22","pct":76},{"date":"2023-07-27","pct":74},{"date":"2023-07-31","pct":71},{"date":"2023-08-05","pct":70},{"date":"2023-08-08","pct":64},{"date":"2023-08-12","pct":64},{"date":"2023-08-16","pct":57},{"date":"2023-08-21","pct":52},{"date":"2023-08-24","pct":55},{"date":"2023-08-28","pct":59},{"date":"2023-09-01","pct":63},{"date":"2023-09-04","pct":57},{"date":"2023-09-08","pct":51},{"date":"2023-09-11","pct":53},{"date":"2023-09-15","pct":51},{"date":"2023-09-19","pct":50},{"date":"2023-09-23","pct":45},{"date":"2023-09-28","pct":44},{"date":"2023-10-02","pct":38},{"date":"2023-10-05","pct":40},{"date":"2023-10-09","pct":42},{"date":"2023-10-12","pct":44},{"date":"2023-10-16","pct":39},{"date":"2023-10-19","pct":36},{"date":"2023-10-23","pct":31},{"date":"2023-10-26","pct":26},{"date":"2023-10-29","pct":25},{"date":"2023-11-02","pct":28},{"date":"2023-11-05","pct":45},{"date":"2023-11-09","pct":41},{"date":"2023-11-12","pct":35},{"date":"2023-11-16","pct":45},{"date":"2023-11-19","pct":55},{"date":"2023-11-25","pct":56},{"date":"2023-11-27","pct":54},{"date":"2023-12-01","pct":55},{"date":"2023-12-04","pct":64},{"date":"2023-12-07","pct":63},{"date":"2023-12-11","pct":64},{"date":"2023-12-15","pct":78},{"date":"2023-12-20","pct":79},{"date":"2023-12-23","pct":76},{"date":"2023-12-27","pct":82},
{"date":"2024-01-01","pct":79},{"date":"2024-01-05","pct":74},{"date":"2024-01-10","pct":75},{"date":"2024-01-13","pct":72},{"date":"2024-01-17","pct":68},{"date":"2024-01-20","pct":73},{"date":"2024-01-26","pct":76},{"date":"2024-01-31","pct":72},{"date":"2024-02-02","pct":66},{"date":"2024-02-08","pct":71},{"date":"2024-02-13","pct":68},{"date":"2024-02-20","pct":71},{"date":"2024-02-27","pct":72},{"date":"2024-03-03","pct":72},{"date":"2024-03-08","pct":74},{"date":"2024-03-12","pct":76},{"date":"2024-03-15","pct":70},{"date":"2024-03-18","pct":72},{"date":"2024-03-22","pct":75},{"date":"2024-03-25","pct":74},{"date":"2024-03-30","pct":80},{"date":"2024-04-03","pct":74},{"date":"2024-04-06","pct":73},{"date":"2024-04-10","pct":70},{"date":"2024-04-13","pct":67},{"date":"2024-04-17","pct":61},{"date":"2024-04-20","pct":64},{"date":"2024-04-24","pct":71},{"date":"2024-04-27","pct":67},{"date":"2024-05-01","pct":63},{"date":"2024-05-04","pct":69},{"date":"2024-05-08","pct":73},{"date":"2024-05-13","pct":75},{"date":"2024-05-17","pct":78},{"date":"2024-05-21","pct":75},{"date":"2024-05-24","pct":73},{"date":"2024-05-28","pct":69},{"date":"2024-05-31","pct":67},{"date":"2024-06-02","pct":69},{"date":"2024-06-06","pct":64},{"date":"2024-06-10","pct":65},{"date":"2024-06-15","pct":60},{"date":"2024-06-18","pct":64},{"date":"2024-06-22","pct":61},{"date":"2024-06-25","pct":62},{"date":"2024-06-29","pct":61},{"date":"2024-07-02","pct":62},{"date":"2024-07-06","pct":59},{"date":"2024-07-09","pct":62},{"date":"2024-07-12","pct":76},{"date":"2024-07-16","pct":79},{"date":"2024-07-18","pct":74},{"date":"2024-07-21","pct":73},{"date":"2024-07-24","pct":75},{"date":"2024-07-28","pct":77},{"date":"2024-07-31","pct":68},{"date":"2024-08-04","pct":56},{"date":"2024-08-08","pct":59},{"date":"2024-08-11","pct":61},{"date":"2024-08-16","pct":69},{"date":"2024-08-19","pct":67},{"date":"2024-08-23","pct":70},{"date":"2024-08-28","pct":72},{"date":"2024-09-01","pct":68},{"date":"2024-09-03","pct":67},{"date":"2024-09-07","pct":59},{"date":"2024-09-11","pct":57},{"date":"2024-09-14","pct":67},{"date":"2024-09-19","pct":72},{"date":"2024-09-23","pct":73},{"date":"2024-09-26","pct":71},{"date":"2024-09-30","pct":72},{"date":"2024-10-03","pct":69},{"date":"2024-10-06","pct":68},{"date":"2024-10-10","pct":69},{"date":"2024-10-13","pct":71},{"date":"2024-10-17","pct":74},{"date":"2024-10-21","pct":72},{"date":"2024-10-25","pct":68},{"date":"2024-10-30","pct":69},{"date":"2024-11-03","pct":62},{"date":"2024-11-06","pct":65},{"date":"2024-11-10","pct":73},{"date":"2024-11-13","pct":74},{"date":"2024-11-17","pct":69},{"date":"2024-11-20","pct":65},{"date":"2024-11-24","pct":67},{"date":"2024-11-27","pct":75},{"date":"2024-11-30","pct":74},{"date":"2024-12-03","pct":73},{"date":"2024-12-06","pct":72},{"date":"2024-12-09","pct":70.5}
]
},
"vconcat": [
{
"width": 1806, "height": 223,
"data": {"name": "m100"},
"resolve": {"axis": {"x": "independent", "y": "independent"}},
"layer": [
{"mark": {"type": "line", "strokeWidth": 2.8, "color": "#2c6ba6"},
 "encoding": {
  "x": {"field": "date", "type": "temporal", "scale": {"domain": [{"year":2019,"month":6,"date":21},{"year":2025,"month":1,"date":2}]},
        "axis": {"orient": "bottom", "values": [{"year":2019,"month":7,"date":1},{"year":2019,"month":10,"date":1},{"year":2020,"month":1,"date":1},{"year":2020,"month":4,"date":1},{"year":2020,"month":7,"date":1},{"year":2020,"month":10,"date":1},{"year":2021,"month":1,"date":1},{"year":2021,"month":4,"date":1},{"year":2021,"month":7,"date":1},{"year":2021,"month":10,"date":1},{"year":2022,"month":1,"date":1},{"year":2022,"month":4,"date":1},{"year":2022,"month":7,"date":1},{"year":2022,"month":10,"date":1},{"year":2023,"month":1,"date":1},{"year":2023,"month":4,"date":1},{"year":2023,"month":7,"date":1},{"year":2023,"month":10,"date":1},{"year":2024,"month":1,"date":1},{"year":2024,"month":4,"date":1},{"year":2024,"month":7,"date":1},{"year":2024,"month":10,"date":1},{"year":2025,"month":1,"date":1}], "grid": true, "gridColor": "black", "gridOpacity": 1, "gridWidth": 1, "labels": false, "ticks": false, "domain": false, "title": null}},
  "y": {"field": "pct", "type": "quantitative", "scale": {"domain": [-27.4, 106.2], "nice": false, "zero": false},
        "axis": {"orient": "right", "values": [0, 50, 100], "grid": true, "gridColor": "black", "gridOpacity": 1, "domain": true, "domainColor": "black", "offset": 2, "ticks": true, "tickColor": "black", "tickSize": 6, "tickWidth": 2.5, "labelFont": "DejaVu Sans", "labelFontSize": 19, "labelColor": "black", "labelPadding": 1, "title": null}},
  "color": {"datum": "S&P Midcap 400 Index - Percentage of Members with Px > 100 Day Moving Avg", "scale": {"range": ["#2c6ba6"]},
        "legend": {"orient": "none", "legendX": 0, "legendY": 177.3, "title": null, "fillColor": "rgba(240,240,240,0.82)", "padding": 5, "clipHeight": 36, "cornerRadius": 2, "labelFont": "DejaVu Sans", "labelFontSize": 18.3, "labelColor": "black", "labelLimit": 2000, "symbolType": "square", "symbolSize": 130, "symbolFillColor": "#2c6ba6", "symbolStrokeColor": "#2c6ba6", "symbolStrokeWidth": 0, "labelOffset": 1}}
 }},
{"data": {"values": [{"date": "2024-12-09", "pct": 71.57, "label": "71.57"}]},
 "mark": {"type": "point", "shape": "M0.29,0L0.376,-0.143L1,-0.143L1,0.143L0.376,0.143Z", "size": 34596, "filled": true, "color": "#2c6ba6", "opacity": 1, "strokeWidth": 0},
 "encoding": {
  "x": {"field": "date", "type": "temporal", "axis": null},
  "y": {"field": "pct", "type": "quantitative", "axis": {"orient": "right", "values": [-25, 25, 75], "grid": false, "domain": false, "labels": false, "offset": 2, "ticks": true, "tickColor": "black", "tickSize": 4, "title": null}}
 }},
{"data": {"values": [{"date": "2024-12-09", "pct": 71.57, "label": "71.57"}]},
 "mark": {"type": "text", "dx": 61, "align": "center", "baseline": "middle", "font": "DejaVu Sans", "fontSize": 19, "color": "white"},
 "encoding": {
  "x": {"field": "date", "type": "temporal", "axis": null},
  "y": {"field": "pct", "type": "quantitative", "axis": null},
  "text": {"field": "label"}
 }}
]
},
{
"width": 1806, "height": 228,
"data": {"name": "m150"},
"resolve": {"axis": {"x": "independent", "y": "independent"}},
"layer": [
{"mark": {"type": "line", "strokeWidth": 2.8, "color": "#be1a33"},
 "encoding": {
  "x": {"field": "date", "type": "temporal", "scale": {"domain": [{"year":2019,"month":6,"date":21},{"year":2025,"month":1,"date":2}]},
        "axis": {"orient": "bottom", "values": [{"year":2019,"month":7,"date":1},{"year":2019,"month":10,"date":1},{"year":2020,"month":1,"date":1},{"year":2020,"month":4,"date":1},{"year":2020,"month":7,"date":1},{"year":2020,"month":10,"date":1},{"year":2021,"month":1,"date":1},{"year":2021,"month":4,"date":1},{"year":2021,"month":7,"date":1},{"year":2021,"month":10,"date":1},{"year":2022,"month":1,"date":1},{"year":2022,"month":4,"date":1},{"year":2022,"month":7,"date":1},{"year":2022,"month":10,"date":1},{"year":2023,"month":1,"date":1},{"year":2023,"month":4,"date":1},{"year":2023,"month":7,"date":1},{"year":2023,"month":10,"date":1},{"year":2024,"month":1,"date":1},{"year":2024,"month":4,"date":1},{"year":2024,"month":7,"date":1},{"year":2024,"month":10,"date":1},{"year":2025,"month":1,"date":1}], "grid": true, "gridColor": "black", "gridOpacity": 1, "gridWidth": 1, "labels": false, "ticks": false, "domain": false, "title": null}},
  "y": {"field": "pct", "type": "quantitative", "scale": {"domain": [-27.5, 109], "nice": false, "zero": false},
        "axis": {"orient": "right", "values": [0, 50, 100], "grid": true, "gridColor": "black", "gridOpacity": 1, "domain": true, "domainColor": "black", "offset": 2, "ticks": true, "tickColor": "black", "tickSize": 6, "tickWidth": 2.5, "labelFont": "DejaVu Sans", "labelFontSize": 19, "labelColor": "black", "labelPadding": 1, "title": null}},
  "color": {"datum": "S&P Midcap 400 Index - Percentage of Members with Px > 150 Day Moving Avg", "scale": {"range": ["#be1a33"]},
        "legend": {"orient": "none", "legendX": 0, "legendY": 182.1, "title": null, "fillColor": "rgba(240,240,240,0.82)", "padding": 5, "clipHeight": 36, "cornerRadius": 2, "labelFont": "DejaVu Sans", "labelFontSize": 18.3, "labelColor": "black", "labelLimit": 2000, "symbolType": "square", "symbolSize": 130, "symbolFillColor": "#be1a33", "symbolStrokeColor": "#be1a33", "symbolStrokeWidth": 0, "labelOffset": 1}}
 }},
{"data": {"values": [{"date": "2024-12-09", "pct": 71.82, "label": "71.82"}]},
 "mark": {"type": "point", "shape": "M0.29,0L0.376,-0.143L1,-0.143L1,0.143L0.376,0.143Z", "size": 34596, "filled": true, "color": "#be1a33", "opacity": 1, "strokeWidth": 0},
 "encoding": {
  "x": {"field": "date", "type": "temporal", "axis": null},
  "y": {"field": "pct", "type": "quantitative", "axis": {"orient": "right", "values": [-25, 25, 75], "grid": false, "domain": false, "labels": false, "offset": 2, "ticks": true, "tickColor": "black", "tickSize": 4, "title": null}}
 }},
{"data": {"values": [{"date": "2024-12-09", "pct": 71.82, "label": "71.82"}]},
 "mark": {"type": "text", "dx": 61, "align": "center", "baseline": "middle", "font": "DejaVu Sans", "fontSize": 19, "color": "white"},
 "encoding": {
  "x": {"field": "date", "type": "temporal", "axis": null},
  "y": {"field": "pct", "type": "quantitative", "axis": null},
  "text": {"field": "label"}
 }},
{"data": {"values": [{}]},
 "mark": {"type": "rule", "color": "#3f3f3f", "strokeWidth": 4},
 "encoding": {
  "x": {"datum": {"year":2019,"month":6,"date":21}, "type": "temporal", "axis": null},
  "x2": {"datum": {"year":2025,"month":3,"date":25}},
  "y": {"datum": 109, "type": "quantitative", "axis": null}
 }}
]
},
{
"width": 1806, "height": 228,
"data": {"name": "m200"},
"resolve": {"axis": {"x": "independent", "y": "independent"}},
"layer": [
{"mark": {"type": "line", "strokeWidth": 2.8, "color": "#80cc00"},
 "encoding": {
  "x": {"field": "date", "type": "temporal", "scale": {"domain": [{"year":2019,"month":6,"date":21},{"year":2025,"month":1,"date":2}]},
        "axis": {"orient": "bottom", "values": [{"year":2019,"month":7,"date":1},{"year":2019,"month":10,"date":1},{"year":2020,"month":1,"date":1},{"year":2020,"month":4,"date":1},{"year":2020,"month":7,"date":1},{"year":2020,"month":10,"date":1},{"year":2021,"month":1,"date":1},{"year":2021,"month":4,"date":1},{"year":2021,"month":7,"date":1},{"year":2021,"month":10,"date":1},{"year":2022,"month":1,"date":1},{"year":2022,"month":4,"date":1},{"year":2022,"month":7,"date":1},{"year":2022,"month":10,"date":1},{"year":2023,"month":1,"date":1},{"year":2023,"month":4,"date":1},{"year":2023,"month":7,"date":1},{"year":2023,"month":10,"date":1},{"year":2024,"month":1,"date":1},{"year":2024,"month":4,"date":1},{"year":2024,"month":7,"date":1},{"year":2024,"month":10,"date":1},{"year":2025,"month":1,"date":1}], "grid": true, "gridColor": "black", "gridOpacity": 1, "gridWidth": 1, "labels": false, "ticks": false, "domain": false,
                 "title": "Source: CHARTbeat", "titleX": 3, "titleY": 72, "titleAlign": "left", "titleAnchor": "start", "titleBaseline": "alphabetic", "titleFont": "DejaVu Sans", "titleFontSize": 16.5, "titleFontWeight": "bold", "titleColor": "black"}},
  "y": {"field": "pct", "type": "quantitative", "scale": {"domain": [-27.5, 109], "nice": false, "zero": false},
        "axis": {"orient": "right", "values": [0, 50, 100], "grid": true, "gridColor": "black", "gridOpacity": 1, "domain": true, "domainColor": "black", "offset": 2, "ticks": true, "tickColor": "black", "tickSize": 6, "tickWidth": 2.5, "labelFont": "DejaVu Sans", "labelFontSize": 19, "labelColor": "black", "labelPadding": 1, "title": null}},
  "color": {"datum": "S&P Midcap 400 Index - Percent of Members Above 200 Day Moving Average", "scale": {"range": ["#80cc00"]},
        "legend": {"orient": "none", "legendX": 0, "legendY": 182.1, "title": null, "fillColor": "rgba(240,240,240,0.82)", "padding": 5, "clipHeight": 36, "cornerRadius": 2, "labelFont": "DejaVu Sans", "labelFontSize": 18.3, "labelColor": "black", "labelLimit": 2000, "symbolType": "square", "symbolSize": 130, "symbolFillColor": "#80cc00", "symbolStrokeColor": "#80cc00", "symbolStrokeWidth": 0, "labelOffset": 1}}
 }},
{"data": {"values": [{"date": "2024-12-09", "pct": 70.5, "label": "70.50"}]},
 "mark": {"type": "point", "shape": "M0.29,0L0.376,-0.143L1,-0.143L1,0.143L0.376,0.143Z", "size": 34596, "filled": true, "color": "#80cc00", "opacity": 1, "strokeWidth": 0},
 "encoding": {
  "x": {"field": "date", "type": "temporal", "axis": {"orient": "bottom", "tickCount": {"interval": "month", "step": 1}, "labels": false, "grid": false, "ticks": true, "tickSize": 4, "tickColor": "black", "domain": true, "domainColor": "black",
                 "title": "MID Index (S&P Midcap 400 Index) SP4 % Above LT MAs  Daily 21JUN2019-09DEC2024", "titleX": 3, "titleY": 88, "titleAlign": "left", "titleAnchor": "start", "titleBaseline": "alphabetic", "titleFont": "DejaVu Sans", "titleFontSize": 11.5, "titleFontWeight": "normal", "titleColor": "black"}},
  "y": {"field": "pct", "type": "quantitative", "axis": {"orient": "right", "values": [-25, 25, 75], "grid": false, "domain": false, "labels": false, "offset": 2, "ticks": true, "tickColor": "black", "tickSize": 4, "title": null}}
 }},
{"data": {"values": [{"date": "2024-12-09", "pct": 70.5, "label": "70.50"}]},
 "mark": {"type": "text", "dx": 61, "align": "center", "baseline": "middle", "font": "DejaVu Sans", "fontSize": 19, "color": "black"},
 "encoding": {
  "x": {"field": "date", "type": "temporal", "axis": {"orient": "bottom", "values": [{"year":2019,"month":9,"date":27},{"year":2020,"month":7,"date":3},{"year":2021,"month":7,"date":3},{"year":2022,"month":7,"date":3},{"year":2023,"month":7,"date":3},{"year":2024,"month":7,"date":3}], "labelExpr": "timeFormat(datum.value, '%Y')", "ticks": false, "domain": false, "grid": false, "labelFont": "DejaVu Sans", "labelFontSize": 19.5, "labelColor": "black", "labelPadding": 29, "labelOverlap": false, "labelFlush": false,
                 "title": "Copyright© 2024 Bloomberg Finance L.P.", "titleX": 1128, "titleY": 88, "titleAlign": "center", "titleBaseline": "alphabetic", "titleFont": "DejaVu Sans", "titleFontSize": 11.5, "titleFontWeight": "normal", "titleColor": "black"}},
  "y": {"field": "pct", "type": "quantitative", "axis": null},
  "text": {"field": "label"}
 }},
{"data": {"values": [{}]},
 "mark": {"type": "rule", "color": "#3f3f3f", "strokeWidth": 4},
 "encoding": {
  "x": {"datum": {"year":2019,"month":6,"date":21}, "type": "temporal", "axis": {"orient": "bottom", "values": [{"year":2020,"month":1,"date":1},{"year":2021,"month":1,"date":1},{"year":2022,"month":1,"date":1},{"year":2023,"month":1,"date":1},{"year":2024,"month":1,"date":1},{"year":2025,"month":1,"date":1}], "offset": 27, "ticks": true, "tickSize": 25, "tickColor": "#8c8c8c", "tickWidth": 1, "labels": false, "domain": false, "grid": false,
                 "title": "09-Dec-2024 12:40:31", "titleX": 1873, "titleY": 61, "titleAlign": "right", "titleBaseline": "alphabetic", "titleFont": "DejaVu Sans", "titleFontSize": 11.5, "titleFontWeight": "normal", "titleColor": "black"}},
  "x2": {"datum": {"year":2025,"month":3,"date":25}},
  "y": {"datum": 109, "type": "quantitative", "axis": null}
 }}
]
}
]
}
